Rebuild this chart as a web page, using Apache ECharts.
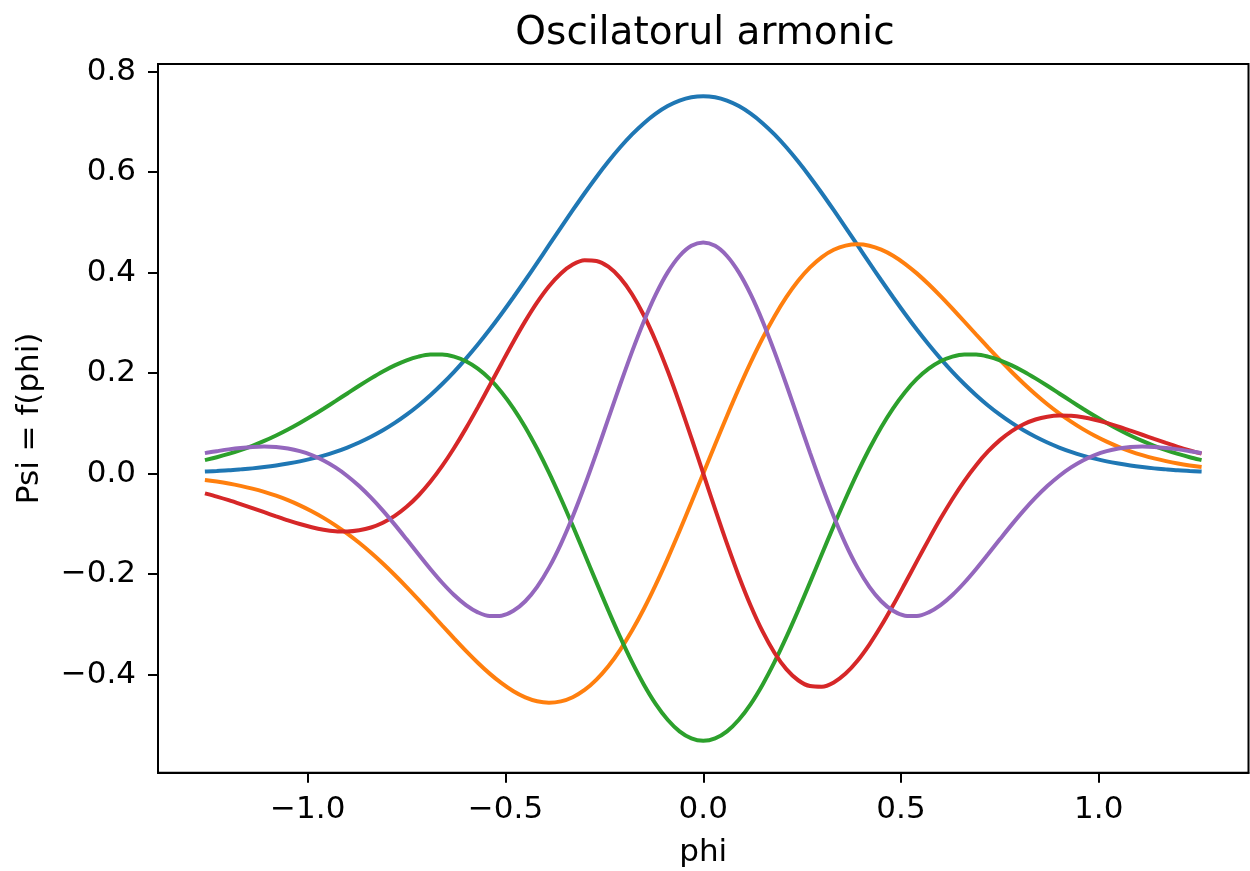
<!DOCTYPE html>
<html>
<head>
<meta charset="utf-8">
<script src="https://cdn.jsdelivr.net/npm/echarts@6/dist/echarts.min.js"></script>
<style>
html,body{margin:0;padding:0;background:#fff;}
#chart{width:1250px;height:871px;}
</style>
</head>
<body>
<div id="chart"></div>
<script>
// phi sample positions
var phi = [-1.255,-1.23,-1.2,-1.17,-1.14,-1.11,-1.08,-1.05,-1.02,-0.99,-0.96,-0.93,-0.9,-0.87,-0.84,-0.81,-0.78,-0.75,-0.72,-0.69,
  -0.66,-0.63,-0.6,-0.57,-0.54,-0.51,-0.48,-0.45,-0.42,-0.39,-0.36,-0.33,-0.3,-0.27,-0.24,-0.21,-0.18,-0.15,-0.12,-0.09,-0.06,-0.03,
  0,
  0.03,0.06,0.09,0.12,0.15,0.18,0.21,0.24,0.27,0.3,0.33,0.36,0.39,0.42,0.45,0.48,0.51,0.54,0.57,0.6,0.63,0.66,
  0.69,0.72,0.75,0.78,0.81,0.84,0.87,0.9,0.93,0.96,0.99,1.02,1.05,1.08,1.11,1.14,1.17,1.2,1.23,1.255];

var psi0 = [0.0041,0.0051,0.0064,0.0082,0.0102,0.0128,0.0159,0.0197,0.0241,0.0295,0.0357,0.0431,0.0517,0.0616,0.0730,0.0859,0.1006,0.1171,0.1354,0.1558,
  0.1781,0.2023,0.2286,0.2567,0.2865,0.3180,0.3508,0.3846,0.4193,0.4543,0.4894,0.5240,0.5578,0.5902,0.6208,0.6492,0.6748,0.6972,0.7161,0.7312,0.7421,0.7488,
  0.751,
  0.7488,0.7421,0.7312,0.7161,0.6972,0.6748,0.6492,0.6208,0.5902,0.5578,0.5240,0.4894,0.4543,0.4193,0.3846,0.3508,0.3180,0.2865,0.2567,0.2286,0.2023,0.1781,
  0.1558,0.1354,0.1171,0.1006,0.0859,0.0730,0.0616,0.0517,0.0431,0.0357,0.0295,0.0241,0.0197,0.0159,0.0128,0.0102,0.0082,0.0064,0.0051,0.0041];

var psi1 = [-0.0133,-0.0160,-0.0199,-0.0246,-0.0301,-0.0366,-0.0442,-0.0531,-0.0634,-0.0751,-0.0883,-0.1032,-0.1197,-0.1379,-0.1578,-0.1792,-0.2020,-0.2260,-0.2510,-0.2766,
  -0.3025,-0.3281,-0.3530,-0.3766,-0.3983,-0.4174,-0.4334,-0.4455,-0.4533,-0.4561,-0.4535,-0.4452,-0.4308,-0.4102,-0.3836,-0.3509,-0.3126,-0.2692,-0.2212,-0.1694,-0.1146,-0.0578,
  0,
  0.0578,0.1146,0.1694,0.2212,0.2692,0.3126,0.3509,0.3836,0.4102,0.4308,0.4452,0.4535,0.4561,0.4533,0.4455,0.4334,0.4174,0.3983,0.3766,0.3530,0.3281,0.3025,
  0.2766,0.2510,0.2260,0.2020,0.1792,0.1578,0.1379,0.1197,0.1032,0.0883,0.0751,0.0634,0.0531,0.0442,0.0366,0.0301,0.0246,0.0199,0.0160,0.0133];

var psi2 = [0.0275,0.0323,0.0389,0.0465,0.0551,0.0648,0.0756,0.0875,0.1005,0.1143,0.1289,0.1440,0.1593,0.1746,0.1893,0.2031,0.2152,0.2253,0.2327,0.2368,
  0.2370,0.2326,0.2233,0.2086,0.1882,0.1619,0.1298,0.0922,0.0492,0.0017,-0.0498,-0.1041,-0.1601,-0.2167,-0.2724,-0.3258,-0.3756,-0.4204,-0.4590,-0.4902,-0.5132,-0.5273,
  -0.532,
  -0.5273,-0.5132,-0.4902,-0.4590,-0.4204,-0.3756,-0.3258,-0.2724,-0.2167,-0.1601,-0.1041,-0.0498,0.0017,0.0492,0.0922,0.1298,0.1619,0.1882,0.2086,0.2233,0.2326,0.2370,
  0.2368,0.2327,0.2253,0.2152,0.2031,0.1893,0.1746,0.1593,0.1440,0.1289,0.1143,0.1005,0.0875,0.0756,0.0648,0.0551,0.0465,0.0389,0.0323,0.0275];

var psi3 = [-0.0405,-0.0460,-0.0531,-0.0608,-0.0688,-0.0771,-0.0853,-0.0933,-0.1006,-0.1069,-0.1118,-0.1148,-0.1154,-0.1131,-0.1075,-0.0980,-0.0844,-0.0664,-0.0438,-0.0166,
  0.0150,0.0507,0.0898,0.1316,0.1750,0.2190,0.2623,0.3032,0.3405,0.3727,0.3982,0.4158,0.4244,0.4231,0.4115,0.3893,0.3567,0.3144,0.2632,0.2044,0.1397,0.0709,
  0,
  -0.0709,-0.1397,-0.2044,-0.2632,-0.3144,-0.3567,-0.3893,-0.4115,-0.4231,-0.4244,-0.4158,-0.3982,-0.3727,-0.3405,-0.3032,-0.2623,-0.2190,-0.1750,-0.1316,-0.0898,-0.0507,-0.0150,
  0.0166,0.0438,0.0664,0.0844,0.0980,0.1075,0.1131,0.1154,0.1148,0.1118,0.1069,0.1006,0.0933,0.0853,0.0771,0.0688,0.0608,0.0531,0.0460,0.0405];

var psi4 = [0.0412,0.0444,0.0480,0.0509,0.0528,0.0535,0.0525,0.0496,0.0444,0.0366,0.0259,0.0121,-0.0049,-0.0250,-0.0482,-0.0739,-0.1018,-0.1311,-0.1609,-0.1901,
  -0.2175,-0.2419,-0.2620,-0.2763,-0.2836,-0.2829,-0.2733,-0.2543,-0.2256,-0.1874,-0.1404,-0.0856,-0.0245,0.0411,0.1091,0.1771,0.2426,0.3031,0.3564,0.4002,0.4329,0.4531,
  0.4599,
  0.4531,0.4329,0.4002,0.3564,0.3031,0.2426,0.1771,0.1091,0.0411,-0.0245,-0.0856,-0.1404,-0.1874,-0.2256,-0.2543,-0.2733,-0.2829,-0.2836,-0.2763,-0.2620,-0.2419,-0.2175,
  -0.1901,-0.1609,-0.1311,-0.1018,-0.0739,-0.0482,-0.0250,-0.0049,0.0121,0.0259,0.0366,0.0444,0.0496,0.0525,0.0535,0.0528,0.0509,0.0480,0.0444,0.0412];

var xTicks = [-1.0,-0.5,0.0,0.5,1.0];
var yTicks = [-0.4,-0.2,0.0,0.2,0.4,0.6,0.8];

var seriesList = [psi0, psi1, psi2, psi3, psi4];
var colors = ['#1f77b4','#ff7f0e','#2ca02c','#d62728','#9467bd'];

function fmt(v){
  var s = Math.abs(v).toFixed(1);
  return (v < -1e-9 ? '\u2212' : '') + s;
}

var font = 'DejaVu Sans';
var chart = echarts.init(document.getElementById('chart'), null, {renderer:'canvas'});
chart.setOption({
  animation: false,
  backgroundColor: '#ffffff',
  title: {
    text: 'Oscilatorul armonic',
    left: 700,
    textAlign: 'center',
    top: 9,
    textStyle: {fontFamily: font, fontSize: 39, fontWeight: 'normal', color: '#000'}
  },
  grid: {
    left: 158, right: 1.5, top: 64, bottom: 98.3,
    outerBoundsMode: 'none',
    containLabel: false,
    show: true, borderColor: '#000', borderWidth: 2, backgroundColor: 'transparent'
  },
  xAxis: {
    type: 'value',
    min: -1.3786, max: 1.3786,
    name: 'phi',
    nameLocation: 'middle',
    nameGap: 65,
    nameTextStyle: {fontFamily: font, fontSize: 31, color: '#000'},
    axisLine: {show: true, onZero: false, lineStyle: {color: '#000', width: 2}},
    axisTick: {show: true, inside: false, length: 10, lineStyle: {color: '#000', width: 2}, customValues: xTicks},
    axisLabel: {fontFamily: font, fontSize: 31, color: '#000', margin: 22, customValues: xTicks, formatter: fmt},
    splitLine: {show: false}
  },
  yAxis: {
    type: 'value',
    min: -0.5955, max: 0.815,
    name: 'Psi = f(phi)',
    nameLocation: 'middle',
    nameGap: 113,
    nameTextStyle: {fontFamily: font, fontSize: 31, color: '#000'},
    axisLine: {show: true, onZero: false, lineStyle: {color: '#000', width: 2}},
    axisTick: {show: true, inside: false, length: 10, lineStyle: {color: '#000', width: 2}, customValues: yTicks},
    axisLabel: {fontFamily: font, fontSize: 31, color: '#000', margin: 22, customValues: yTicks, formatter: fmt},
    splitLine: {show: false}
  },
  series: seriesList.map(function(arr, i){
    return {
      type: 'line',
      name: 'psi' + i,
      data: phi.map(function(x, k){ return [x, arr[k]]; }),
      smooth: 0.33,
      showSymbol: false,
      lineStyle: {color: colors[i], width: 4, cap: 'square'},
      itemStyle: {color: colors[i]},
      z: 2 + i
    };
  })
});
</script>
</body>
</html>
